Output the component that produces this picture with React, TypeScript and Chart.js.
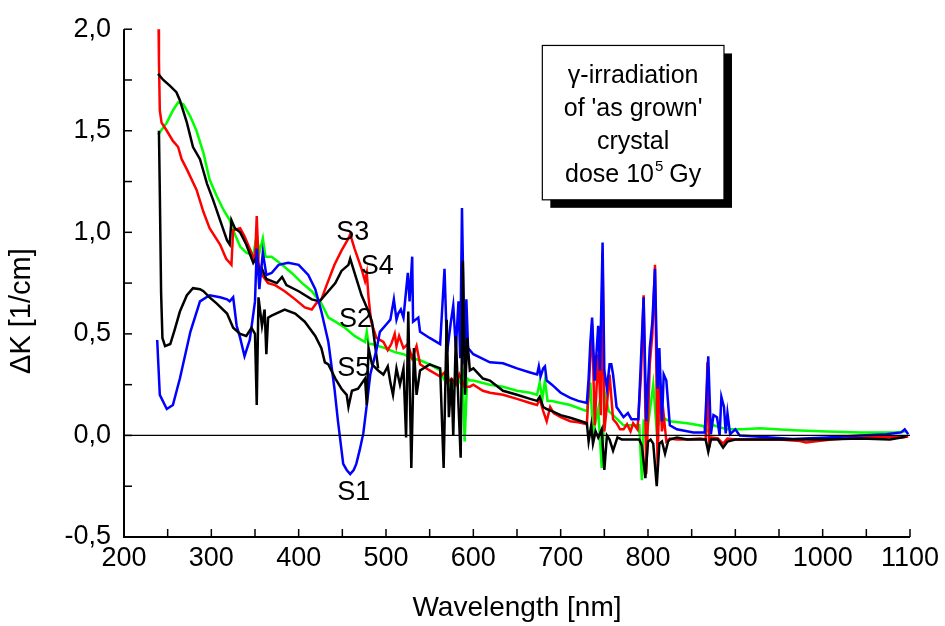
import React, { useEffect, useRef } from 'react';
import { Chart, registerables } from 'chart.js';

Chart.register(...registerables);

// ---------- data (wavelength in nm, ΔK in 1/cm) ----------
const s3Wl = [239.5, 240, 241, 243, 249, 256, 262, 266, 272, 283, 291, 298, 310, 317, 321, 323, 325, 333, 338, 346, 350, 352, 354, 358, 365, 373, 384, 396, 407, 415, 420, 426, 432, 441, 449, 457, 459, 464, 472, 476, 478, 480, 483, 489, 497, 502, 506, 510, 512, 515, 520, 525, 530, 535, 539, 550, 562, 567, 570, 575, 580, 584, 587, 590, 596, 600, 611, 619, 634, 650, 665, 673, 676, 680, 684, 688, 692, 700, 711, 720, 730, 733, 736, 739, 743, 746, 748, 750, 753, 756, 760, 764, 768, 772, 776, 780, 783, 788, 792, 795, 798, 802, 805, 808, 811, 813, 816, 818, 821, 825, 833, 845, 860, 866, 868, 870, 872, 880, 886, 891, 900, 920, 950, 974, 981, 990, 1010, 1043, 1070, 1081, 1090, 1098];
const s3K = [2.05, 1.85, 1.6, 1.54, 1.5, 1.45, 1.42, 1.36, 1.31, 1.21, 1.1, 1.02, 0.94, 0.87, 0.85, 0.84, 1.01, 1.02, 0.98, 0.9, 0.86, 1.08, 0.85, 0.79, 0.75, 0.74, 0.71, 0.67, 0.63, 0.62, 0.65, 0.67, 0.74, 0.84, 0.91, 0.97, 0.99, 0.92, 0.82, 0.76, 0.8, 0.68, 0.56, 0.48, 0.46, 0.42, 0.45, 0.5, 0.44, 0.49, 0.43, 0.45, 0.38, 0.44, 0.35, 0.32, 0.29, 0.31, 0.26, 0.28, 0.25, 0.3, 0.27, 0.24, 0.24, 0.25, 0.22, 0.21, 0.2, 0.18, 0.16, 0.15, 0.18, 0.12, 0.07, 0.14, 0.11, 0.09, 0.07, 0.065, 0.055, 0.3, 0.55, 0.05, 0.4, 0.1, 0.9, 0.02, 0.15, 0.3, 0.08, 0.06, 0.03, 0.03, 0.055, 0.02, 0.06, 0.03, 0.3, 0.69, -0.19, 0.35, 0.5, 0.84, -0.16, 0.3, 0.02, 0.1, -0.03, -0.015, -0.02, -0.02, -0.015, -0.02, 0.36, -0.06, -0.01, -0.015, -0.04, -0.015, -0.02, -0.02, -0.02, -0.027, -0.035, -0.03, -0.02, -0.01, -0.008, -0.005, -0.01, -0.005];

const s1Wl = [238, 241, 249, 256, 264, 276, 287, 298, 310, 318, 321, 325, 329, 333, 338, 344, 350, 352, 355, 359, 363, 369, 377, 388, 400, 411, 419, 426, 434, 441, 445, 451, 455, 459, 463, 466, 470, 474, 478, 482, 489, 493, 501, 505, 509, 512, 514, 517, 520, 525, 527, 530, 531, 537, 539, 550, 562, 567, 570, 574, 577, 580, 583, 585, 587, 590, 592, 594, 600, 619, 634, 650, 665, 673, 675, 677, 680, 682, 684, 690, 700, 711, 720, 730, 732, 734, 736, 739, 743, 745, 748, 750, 753, 756, 758, 760, 764, 772, 777, 781, 789, 792, 795, 798, 802, 805, 808, 811, 813, 816, 818, 821, 825, 833, 852, 865, 869, 872, 875, 879, 882, 884, 887, 889, 891, 894, 900, 905, 928, 966, 1005, 1043, 1073, 1090, 1094, 1098];
const s1K = [0.47, 0.2, 0.13, 0.15, 0.28, 0.51, 0.66, 0.69, 0.68, 0.67, 0.66, 0.68, 0.54, 0.48, 0.39, 0.47, 0.66, 0.92, 0.72, 0.9, 0.79, 0.8, 0.84, 0.85, 0.84, 0.79, 0.72, 0.61, 0.46, 0.23, 0.07, -0.14, -0.17, -0.19, -0.17, -0.14, -0.07, 0.01, 0.15, 0.3, 0.42, 0.51, 0.55, 0.57, 0.67, 0.57, 0.6, 0.62, 0.58, 0.8, 0.66, 0.88, 0.56, 0.58, 0.51, 0.48, 0.45, 0.82, 0.41, 0.55, 0.64, 0.43, 0.66, 0.38, 1.12, 0.35, 0.67, 0.43, 0.4, 0.36, 0.355, 0.33, 0.31, 0.3, 0.34, 0.29, 0.33, 0.34, 0.27, 0.25, 0.21, 0.185, 0.17, 0.16, 0.28, 0.46, 0.58, 0.27, 0.54, 0.32, 0.95, 0.32, 0.23, 0.35, 0.35, 0.3, 0.14, 0.09, 0.11, 0.08, 0.08, 0.38, 0.68, 0.07, 0.43, 0.56, 0.82, 0.23, 0.43, 0.07, 0.3, 0.27, 0.05, 0.03, 0.015, 0.015, 0.39, 0.006, 0.1, 0.09, 0.0, 0.19, 0.14, 0.01, 0.11, 0.006, 0.03, 0.0, -0.007, -0.018, -0.01, 0.0, 0.006, 0.015, 0.03, 0.006];

const s2Wl = [239, 249, 256, 262, 268, 276, 283, 291, 298, 306, 314, 321, 325, 333, 340, 348, 352, 355, 359, 362, 369, 381, 392, 404, 415, 426, 434, 442, 453, 464, 476, 478, 480, 484, 499, 510, 520, 530, 539, 550, 562, 566, 570, 575, 580, 585, 588, 590, 593, 596, 600, 619, 634, 650, 665, 673, 676, 679, 682, 685, 690, 700, 711, 720, 730, 734, 737, 743, 747, 751, 755, 760, 772, 780, 790, 793, 795, 800, 806, 810, 815, 820, 825, 845, 863, 869, 875, 890, 909, 928, 966, 1005, 1043, 1081, 1096];
const s2K = [1.48, 1.54, 1.6, 1.64, 1.63, 1.57, 1.5, 1.39, 1.26, 1.18, 1.11, 1.06, 1.01, 0.93, 0.9, 0.885, 0.99, 0.9, 0.97, 0.88, 0.88, 0.84, 0.8, 0.75, 0.71, 0.65, 0.58, 0.56, 0.53, 0.49, 0.46, 0.51, 0.45, 0.45, 0.43, 0.41, 0.4, 0.38, 0.37, 0.35, 0.32, 0.28, 0.31, 0.22, 0.3, 0.26, 0.3, -0.03, 0.28, 0.27, 0.27, 0.25, 0.24, 0.22, 0.21, 0.2, 0.26, 0.18, 0.27, 0.17, 0.17, 0.16, 0.15, 0.135, 0.12, 0.26, 0.006, 0.13, -0.16, 0.2, 0.12, 0.1, 0.05, 0.05, 0.05, -0.22, 0.07, 0.05, 0.25, 0.02, 0.1, 0.08, 0.07, 0.06, 0.047, 0.02, 0.05, 0.03, 0.03, 0.035, 0.026, 0.02, 0.014, 0.014, 0.02];

const s4Wl = [239, 245, 253, 260, 264, 272, 279, 287, 295, 302, 310, 318, 321, 323, 327, 333, 340, 348, 352, 355, 358, 363, 375, 381, 386, 400, 415, 424, 430, 442, 449, 457, 459, 464, 472, 480, 484, 487, 491];
const s4K = [1.78, 1.75, 1.72, 1.69, 1.65, 1.54, 1.42, 1.36, 1.24, 1.16, 1.06, 0.96, 0.94, 1.06, 1.02, 1.0, 0.94, 0.85, 0.88, 0.8, 0.82, 0.77, 0.75, 0.78, 0.74, 0.71, 0.67, 0.66, 0.69, 0.75, 0.81, 0.84, 0.87, 0.8, 0.69, 0.61, 0.56, 0.46, 0.33];

const s5Wl = [240, 241, 242.5, 244, 247, 253, 258, 264, 272, 279, 287, 291, 298, 306, 318, 325, 333, 340, 346, 350, 352, 354, 358, 361, 363, 365, 369, 384, 396, 407, 419, 426, 430, 434, 442, 449, 455, 457, 461, 468, 476, 478, 480, 484, 491, 497, 502, 505, 508, 512, 516, 520, 523, 525.5, 529, 532, 535, 539, 550, 562, 566, 569.5, 572, 575, 577, 580, 583, 585.5, 588, 590.5, 593, 596, 600, 611, 619, 634, 650, 665, 673, 676, 680, 684, 690, 700, 711, 720, 730, 732, 735, 737, 740, 743, 747, 750, 753, 756, 760, 765, 770, 780, 790, 793, 797, 800, 803, 806, 810, 813, 816, 819.5, 823, 825, 833, 845, 860, 866, 869, 872, 880, 886, 891, 900, 920, 950, 1000, 1043, 1077, 1090, 1096];
const s5K = [1.5, 1.2, 0.7, 0.48, 0.44, 0.45, 0.52, 0.61, 0.69, 0.725, 0.72, 0.71, 0.68, 0.65, 0.6, 0.53, 0.5, 0.49, 0.53, 0.5, 0.15, 0.68, 0.54, 0.62, 0.4, 0.58, 0.59, 0.62, 0.6, 0.56, 0.49, 0.43, 0.36, 0.35, 0.28, 0.23, 0.2, 0.14, 0.22, 0.23, 0.28, 0.15, 0.43, 0.35, 0.32, 0.3, 0.34, 0.26, 0.2, 0.33, 0.25, 0.33, -0.01, 0.61, -0.16, 0.43, 0.2, 0.32, 0.35, 0.33, -0.16, 0.57, 0.09, 0.28, 0.0, 0.49, 0.15, -0.11, 0.86, 0.2, 0.48, 0.32, 0.33, 0.28, 0.27, 0.22, 0.2, 0.18, 0.17, 0.19, 0.14, 0.13, 0.12, 0.1, 0.087, 0.075, 0.06, -0.03, 0.05, -0.04, 0.02, -0.01, 0.03, -0.17, 0.0, -0.02, -0.075, -0.01, -0.02, -0.02, -0.02, -0.05, -0.21, -0.03, -0.02, -0.04, -0.25, -0.04, -0.03, -0.09, -0.03, -0.02, -0.01, -0.02, -0.02, -0.02, -0.08, -0.02, -0.02, -0.06, -0.03, -0.02, -0.02, -0.02, -0.02, -0.015, -0.02, -0.01, -0.005];

// axis ranges / tick steps
const xRange = [200, 1100];
const yRange = [-0.5, 2.0];
const xStep = 100;
const yStep = 0.5;

// curve labels and where they sit (data coordinates)
const curveNames = ['S1', 'S2', 'S3', 'S4', 'S5'];
const curveLabelWl = [463, 465, 462, 490, 463];
const curveLabelK = [-0.28, 0.57, 1.0, 0.83, 0.33];

// info box
const boxLines = ['\u03b3-irradiation', "of 'as grown'", 'crystal', 'dose 10|5| Gy'];
const boxWl = [679, 887];
const boxK = [1.92, 1.16];

const xTitle = 'Wavelength [nm]';
const yTitle = '\u0394K [1/cm]';

const FONT = "'Liberation Sans', Arial, Helvetica, sans-serif";

const pts = (wl: number[], k: number[]) => wl.map((x, i) => ({ x, y: k[i] }));

const decorPlugin = {
  id: 'decor',
  afterDatasetsDraw(chart: any) {
    const { ctx, chartArea: a, scales } = chart;
    const x = scales.x;
    const y = scales.y;
    ctx.save();
    // zero line
    ctx.strokeStyle = '#000';
    ctx.lineWidth = 1.3;
    const y0 = y.getPixelForValue(0);
    ctx.beginPath();
    ctx.moveTo(a.left, y0);
    ctx.lineTo(a.right, y0);
    ctx.stroke();
    // spines
    ctx.lineWidth = 2;
    ctx.beginPath();
    ctx.moveTo(a.left, a.top);
    ctx.lineTo(a.left, a.bottom);
    ctx.lineTo(a.right, a.bottom);
    ctx.stroke();
    // inward ticks
    ctx.lineWidth = 1.5;
    for (let v = yRange[0]; v <= yRange[1] + 1e-9; v += yStep / 2) {
      const py = y.getPixelForValue(v);
      ctx.beginPath();
      ctx.moveTo(a.left, py);
      ctx.lineTo(a.left + 8, py);
      ctx.stroke();
    }
    for (let v = xRange[0]; v <= xRange[1] + 1e-9; v += xStep / 2) {
      const px = x.getPixelForValue(v);
      ctx.beginPath();
      ctx.moveTo(px, a.bottom);
      ctx.lineTo(px, a.bottom - 8);
      ctx.stroke();
    }
    // y axis title (rotated)
    ctx.fillStyle = '#000';
    ctx.save();
    ctx.translate(22, (a.top + a.bottom) / 2 + 28);
    ctx.rotate(-Math.PI / 2);
    ctx.font = `29px ${FONT}`;
    ctx.textAlign = 'center';
    ctx.textBaseline = 'middle';
    ctx.fillText(yTitle, 0, 0);
    ctx.restore();
    // curve labels
    ctx.font = `27px ${FONT}`;
    ctx.textAlign = 'center';
    ctx.textBaseline = 'middle';
    curveNames.forEach((n, i) => {
      ctx.fillText(n, x.getPixelForValue(curveLabelWl[i]), y.getPixelForValue(curveLabelK[i]));
    });
    // info box with shadow
    const bl = x.getPixelForValue(boxWl[0]);
    const br = x.getPixelForValue(boxWl[1]);
    const bt = y.getPixelForValue(boxK[0]);
    const bb = y.getPixelForValue(boxK[1]);
    ctx.fillStyle = '#000';
    ctx.fillRect(bl + 8, bt + 8, br - bl, bb - bt);
    ctx.fillStyle = '#fff';
    ctx.fillRect(bl, bt, br - bl, bb - bt);
    ctx.strokeStyle = '#000';
    ctx.lineWidth = 1.2;
    ctx.strokeRect(bl, bt, br - bl, bb - bt);
    ctx.fillStyle = '#000';
    ctx.textBaseline = 'alphabetic';
    const cx = (bl + br) / 2;
    const base = bt + 38;
    const lh = 33;
    boxLines.forEach((line, i) => {
      const by = base + i * lh;
      const parts = line.split('|');
      if (parts.length === 1) {
        ctx.font = `25px ${FONT}`;
        ctx.textAlign = 'center';
        ctx.fillText(line, cx, by);
      } else {
        ctx.textAlign = 'left';
        ctx.font = `25px ${FONT}`;
        const w0 = ctx.measureText(parts[0]).width;
        const w2 = ctx.measureText(parts[2]).width;
        ctx.font = `15px ${FONT}`;
        const w1 = ctx.measureText(parts[1]).width;
        let sx = cx - (w0 + w1 + w2) / 2;
        ctx.font = `25px ${FONT}`;
        ctx.fillText(parts[0], sx, by);
        sx += w0;
        ctx.font = `15px ${FONT}`;
        ctx.fillText(parts[1], sx + 1, by - 11);
        sx += w1;
        ctx.font = `25px ${FONT}`;
        ctx.fillText(parts[2], sx, by);
      }
    });
    ctx.restore();
  },
};

export default function App() {
  const ref = useRef<HTMLCanvasElement | null>(null);
  useEffect(() => {
    document.body.style.margin = '0';
    const canvas = ref.current;
    if (!canvas) return;
    const line = (data: any, color: string, order: number) => ({
      data,
      borderColor: color,
      backgroundColor: color,
      borderWidth: 2.5,
      pointRadius: 0,
      tension: 0,
      fill: false,
      order,
    });
    const chart = new Chart(canvas, {
      type: 'line',
      data: {
        datasets: [
          line(pts(s5Wl, s5K), '#000000', 0),
          line(pts(s1Wl, s1K), '#0000ff', 1),
          line(pts(s4Wl, s4K), '#000000', 2),
          line(pts(s3Wl, s3K), '#ff0000', 3),
          line(pts(s2Wl, s2K), '#00ff00', 4),
        ],
      },
      options: {
        animation: false,
        responsive: false,
        parsing: false as any,
        layout: { padding: { top: 25, right: 35, left: 0, bottom: 0 } },
        plugins: { legend: { display: false }, tooltip: { enabled: false } },
        scales: {
          x: {
            type: 'linear',
            min: xRange[0],
            max: xRange[1],
            grid: { display: false, drawTicks: false },
            border: { display: false },
            ticks: {
              stepSize: xStep,
              padding: 5,
              color: '#000',
              font: { family: FONT, size: 27 },
              maxRotation: 0,
              callback: (v: any) => String(v),
            },
            title: {
              display: true,
              text: xTitle,
              color: '#000',
              font: { family: FONT, size: 28 },
              padding: { top: 0, bottom: 1 },
            },
            afterFit: (s: any) => {
              s.height = 89;
            },
          },
          y: {
            type: 'linear',
            min: yRange[0],
            max: yRange[1],
            grid: { display: false, drawTicks: false },
            border: { display: false },
            ticks: {
              stepSize: yStep,
              padding: 13,
              color: '#000',
              font: { family: FONT, size: 27 },
              callback: (v: any) => Number(v).toFixed(1).replace('.', ','),
            },
            title: { display: false },
            afterFit: (s: any) => {
              s.width = 124;
            },
          },
        },
      },
      plugins: [decorPlugin],
    });
    return () => chart.destroy();
  }, []);
  return (
    <div style={{ width: 945, height: 626 }}>
      <canvas ref={ref} width={945} height={626} style={{ display: 'block' }} />
    </div>
  );
}
